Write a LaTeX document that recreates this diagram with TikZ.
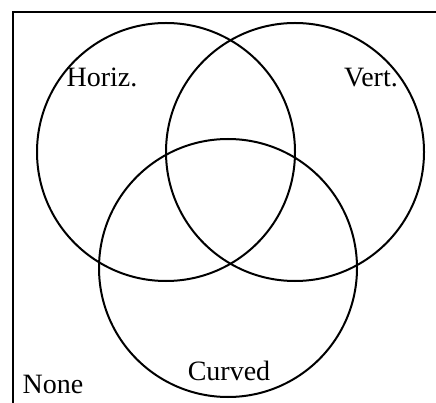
\documentclass[tikz,border=0pt]{standalone}
\usepackage{fontspec}
\setmainfont{Liberation Serif}
\begin{document}
\begin{tikzpicture}[x=1pt,y=-1pt,
  ring/.style={draw=black,line width=2pt,circle,minimum size=258pt,inner sep=0pt},
  lbl/.style={font=\fontsize{28}{28}\selectfont,inner sep=0pt,anchor=base}]
\useasboundingbox (0,0) rectangle (436,403);
\draw[line width=2.2pt] (13,403) -- (13,12) -- (437,12);
\node[ring] (h) at (166,152) {};
\node[ring] (v) at (295,152) {};
\node[ring] (c) at (228,268) {};
\node[lbl] (th) at (102,87) {Horiz.};
\node[lbl] (tv) at (371,87) {Vert.};
\node[lbl] (tc) at (229,380) {Curved};
\node[lbl] (tn) at (53,393) {None};
\end{tikzpicture}
\end{document}
